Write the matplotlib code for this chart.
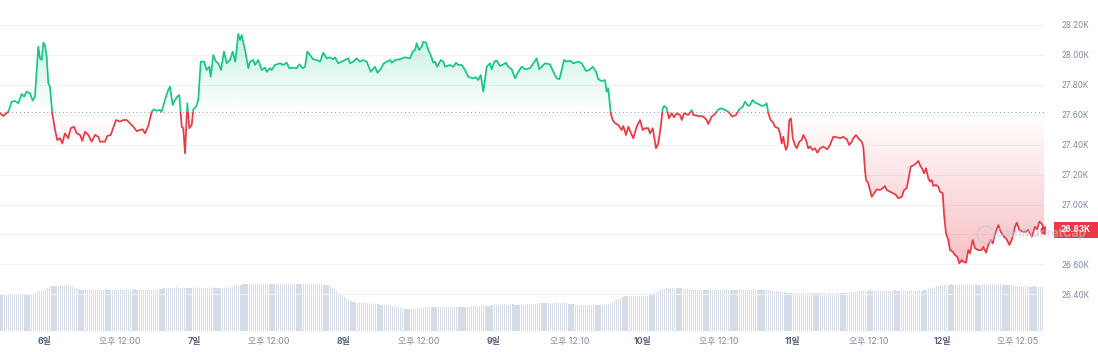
import numpy as np
import matplotlib
matplotlib.use("Agg")
import matplotlib.pyplot as plt
import matplotlib.colors as mcolors
import matplotlib.transforms as mtransforms
from matplotlib.path import Path
from matplotlib.patches import Rectangle

# ---------------- data ----------------
# hours since "6일 00:00"
hours = [
    -7.22, -6.69, -6.15, -5.89, -5.35, -4.82, -4.29, -3.74, -3.37, -2.94, -2.41, -1.97, -1.61, -1.08, -0.80,
    -0.53, -0.27, 0.00, 0.27, 0.53, 0.80, 1.17, 1.61, 1.97, 2.41, 2.78, 3.21, 3.74, 4.13, 4.66, 5.09, 5.62,
    5.99, 6.42, 6.95, 7.50, 8.03, 8.56, 8.83, 9.63, 10.00, 10.55, 11.40, 12.04, 12.57, 13.12, 13.64, 14.18,
    14.72, 15.25, 15.68, 16.05, 16.58, 17.13, 17.50, 17.93, 18.46, 18.73, 19.26, 19.79, 20.07, 20.50, 20.87,
    21.24, 21.56, 21.95, 22.20, 22.48, 22.85, 23.17, 23.55, 23.81, 24.24, 24.61, 25.00, 25.53, 25.96, 26.38,
    26.60, 27.02, 27.45, 27.82, 28.26, 28.74, 29.17, 29.70, 30.13, 30.55, 31.03, 31.31, 31.58, 32.11, 32.64,
    32.91, 33.44, 33.71, 34.24, 34.79, 35.32, 35.59, 36.12, 36.40, 36.92, 37.73, 38.26, 38.80, 39.22, 39.86,
    40.41, 40.83, 41.37, 41.74, 42.11, 42.54, 43.07, 43.62, 44.15, 44.68, 45.22, 45.75, 46.28, 46.56, 47.09,
    47.63, 48.16, 48.69, 48.97, 49.49, 50.04, 50.57, 51.10, 51.65, 52.29, 52.98, 53.35, 53.89, 54.31, 54.86,
    55.39, 55.66, 56.19, 56.99, 57.80, 58.60, 59.03, 59.40, 59.67, 60.04, 60.48, 60.73, 61.17, 61.54, 61.92,
    62.34, 62.61, 62.98, 63.53, 63.94, 64.22, 65.02, 65.55, 65.98, 66.35, 66.90, 67.43, 67.96, 68.66, 69.19,
    69.56, 69.95, 70.37, 70.91, 71.44, 71.71, 72.13, 72.52, 73.05, 73.58, 74.01, 74.38, 74.93, 75.46, 75.99,
    76.53, 77.06, 77.86, 78.39, 78.94, 79.36, 79.74, 80.27, 81.07, 81.60, 82.15, 82.57, 82.95, 83.32, 83.76,
    84.29, 84.82, 85.62, 86.16, 86.85, 87.38, 87.93, 88.46, 88.83, 89.37, 89.90, 90.17, 90.43, 90.82, 91.14,
    91.51, 92.04, 92.58, 92.84, 93.27, 93.64, 94.08, 94.45, 94.99, 95.52, 95.96, 96.32, 96.85, 97.13, 97.56,
    98.09, 98.46, 98.85, 99.17, 99.42, 99.81, 100.18, 100.61, 100.98, 101.42, 101.94, 102.22, 102.59, 103.28,
    103.82, 104.08, 104.88, 105.69, 106.23, 106.49, 107.03, 107.56, 108.09, 108.64, 109.17, 109.70, 110.34,
    110.93, 111.46, 112.01, 112.38, 112.91, 113.18, 113.61, 113.98, 114.51, 115.06, 115.59, 115.86, 116.12,
    116.50, 116.92, 117.19, 117.72, 117.99, 118.27, 118.53, 118.69, 118.96, 119.24, 119.49, 119.76, 120.04,
    120.40, 120.68, 121.10, 121.48, 121.74, 122.17, 122.54, 122.81, 123.25, 123.62, 123.99, 124.42, 124.95,
    125.59, 126.02, 126.55, 127.20, 127.63, 128.16, 128.71, 129.12, 129.51, 129.77, 130.20, 130.57, 131.12,
    131.37, 131.64, 131.81, 132.17, 132.45, 132.72, 133.09, 133.52, 134.05, 134.49, 134.85, 135.13, 135.66,
    136.19, 136.62, 136.99, 137.54, 137.91, 138.34, 138.60, 138.98, 139.51, 139.95, 140.20, 140.47, 140.91,
    141.12, 141.44, 141.81, 142.08, 142.35, 142.61, 143.04, 143.41, 143.68, 144.12, 144.32, 144.64, 145.01,
    145.29, 145.72, 146.09, 146.46, 146.78, 147.17, 147.42, 147.86, 148.23, 148.50, 148.93, 149.30, 149.83,
    150.38, 150.64, 151.07, 151.44, 151.83, 152.15, 152.52, 153.05, 153.43, 153.96, 154.39, 154.81, 155.20,
    155.73, 156.00, 156.42, 156.96, 157.49, 157.86, 158.41, 158.94, 159.31, 159.63, 160.02, 160.39,
]
price = [
    27610, 27592, 27612, 27620, 27687, 27692, 27677, 27739, 27721, 27754, 27744, 27694, 27721, 28055, 27977,
    27966, 28082, 28066, 27988, 27810, 27788, 27610, 27498, 27431, 27443, 27409, 27476, 27443, 27510, 27520,
    27476, 27465, 27425, 27487, 27465, 27420, 27465, 27453, 27420, 27420, 27458, 27465, 27565, 27554, 27565,
    27565, 27543, 27520, 27491, 27498, 27503, 27476, 27525, 27620, 27636, 27627, 27632, 27620, 27699, 27766,
    27788, 27665, 27699, 27721, 27732, 27520, 27510, 27342, 27677, 27510, 27532, 27636, 27654, 27699, 27955,
    27955, 27899, 27921, 27854, 27999, 27955, 27944, 27899, 28022, 27944, 27966, 28022, 27955, 28140, 28100,
    28133, 28033, 27911, 27955, 27966, 27933, 27966, 27899, 27915, 27888, 27911, 27899, 27933, 27944, 27933,
    27948, 27911, 27915, 27911, 27937, 27911, 27921, 28022, 27999, 27971, 27966, 27955, 28015, 27977, 27984,
    27971, 27984, 27944, 27955, 27966, 27977, 27944, 27955, 27977, 27955, 27966, 27955, 27888, 27921, 27881,
    27904, 27940, 27955, 27966, 27948, 27966, 27971, 27984, 27977, 28022, 28033, 28078, 28033, 28055, 28088,
    28082, 28033, 27999, 27948, 27955, 27921, 27966, 27955, 27921, 27933, 27921, 27948, 27933, 27933, 27899,
    27854, 27844, 27850, 27832, 27866, 27754, 27921, 27944, 27904, 27955, 27962, 27926, 27937, 27948, 27921,
    27904, 27844, 27888, 27921, 27904, 27911, 27944, 27977, 27904, 27921, 27944, 27937, 27888, 27844, 27837,
    27899, 27966, 27955, 27962, 27944, 27955, 27944, 27893, 27899, 27921, 27888, 27837, 27826, 27832, 27754,
    27777, 27610, 27565, 27543, 27532, 27498, 27525, 27465, 27520, 27476, 27443, 27520, 27565, 27498, 27510,
    27510, 27476, 27510, 27376, 27409, 27520, 27643, 27659, 27643, 27576, 27610, 27583, 27610, 27599, 27565,
    27610, 27599, 27632, 27599, 27592, 27588, 27565, 27538, 27588, 27605, 27636, 27643, 27632, 27620, 27588,
    27599, 27636, 27654, 27687, 27659, 27665, 27699, 27681, 27672, 27659, 27665, 27677, 27610, 27565, 27547,
    27520, 27510, 27476, 27409, 27453, 27409, 27365, 27398, 27565, 27576, 27443, 27398, 27376, 27420, 27431,
    27465, 27431, 27376, 27387, 27365, 27376, 27346, 27376, 27387, 27369, 27398, 27453, 27449, 27443, 27453,
    27436, 27398, 27420, 27443, 27465, 27443, 27420, 27387, 27231, 27164, 27142, 27097, 27052, 27075, 27102,
    27097, 27109, 27124, 27097, 27086, 27075, 27064, 27042, 27052, 27097, 27109, 27164, 27253, 27264, 27280,
    27291, 27264, 27231, 27209, 27242, 27175, 27153, 27164, 27124, 27131, 27120, 27086, 27075, 26941, 26808,
    26763, 26696, 26685, 26663, 26651, 26607, 26629, 26618, 26611, 26696, 26674, 26763, 26708, 26696, 26696,
    26718, 26678, 26730, 26763, 26741, 26803, 26863, 26818, 26785, 26768, 26730, 26763, 26852, 26879, 26830,
    26818, 26818, 26830, 26785, 26852, 26835, 26886, 26871, 26830,
]
baseline_price = 27620

# volume bars every 20 minutes starting at the first data point (billions USD)
vol_start_hour = -7.22
vol_step_hour = 1.0 / 3.0
volume_b = [
    12.2, 12.2, 12.3, 12.2, 12.2, 12.2, 12.1, 12.2, 12.2, 12.2, 12.2, 12.2, 12.1, 12.2, 12.2, 12.3, 12.4, 12.7,
    13.0, 13.3, 13.4, 13.6, 13.9, 14.2, 14.6,
    14.9, 15.0, 15.1, 15.1, 15.2, 15.2, 15.3, 15.4, 15.3, 15.1,
    14.8, 14.5, 14.2, 14.0,
    13.8, 13.8, 13.7, 13.8, 13.8, 13.9, 13.8, 13.8, 13.7, 13.8, 13.8, 13.8, 13.9, 13.8, 13.8, 13.7, 13.8,
    13.8, 13.8, 13.9, 13.8, 13.8, 13.7, 13.8, 13.8, 13.8, 13.9, 13.8, 13.8, 13.7, 13.8, 13.8, 13.8, 13.9,
    13.8, 13.8, 13.8, 13.9, 14.0, 14.1,
    14.2, 14.3, 14.4, 14.5, 14.5, 14.5, 14.6, 14.5, 14.5, 14.5, 14.4, 14.5, 14.5, 14.5, 14.6, 14.5, 14.5,
    14.5, 14.4, 14.5, 14.5, 14.5, 14.6, 14.5, 14.5, 14.5, 14.4, 14.5, 14.5, 14.5, 14.6, 14.5, 14.6, 14.8,
    15.0, 15.2,
    15.4, 15.5, 15.6, 15.7, 15.7, 15.7, 15.8, 15.7, 15.7, 15.7, 15.6, 15.7, 15.7, 15.7, 15.8, 15.7, 15.7,
    15.7, 15.6, 15.7, 15.7, 15.7, 15.8, 15.7, 15.7, 15.7, 15.6, 15.7, 15.7, 15.7, 15.8, 15.7, 15.7, 15.7,
    15.6, 15.7, 15.7, 15.7, 15.7, 15.6, 15.6, 15.5, 15.4,
    15.2, 14.9, 14.5, 14.0, 13.3,
    12.6, 12.0, 11.6, 11.2, 10.7, 10.2,
    9.9, 9.7, 9.6, 9.5, 9.5, 9.4, 9.4, 9.3, 9.3, 9.2, 9.1, 9.0, 9.0,
    8.9, 8.8, 8.8, 8.7, 8.7, 8.6, 8.5, 8.3, 8.1, 7.9,
    7.8, 7.7, 7.6, 7.5, 7.5, 7.4, 7.4, 7.5, 7.5, 7.5, 7.6, 7.7, 7.8, 7.9,
    8.0, 8.0, 8.0, 8.1, 8.0, 8.0, 7.9, 8.0, 8.0, 8.0, 8.1, 8.0, 8.0, 7.9, 8.0, 8.0, 8.0, 8.1, 8.0, 8.0,
    8.1, 8.2, 8.3, 8.4,
    8.5, 8.5, 8.5, 8.6, 8.5, 8.5, 8.5, 8.6, 8.7, 8.7,
    8.8, 8.8, 8.8, 8.9, 8.8, 8.8, 8.8, 8.9, 8.8, 8.8, 8.8, 8.9, 8.8, 8.8, 8.9, 9.0, 9.0, 9.1, 9.1,
    9.2, 9.2, 9.2, 9.3, 9.2, 9.2, 9.2, 9.3, 9.2, 9.2, 9.2, 9.3, 9.2, 9.2, 9.2, 9.1, 9.0, 8.9, 8.8,
    8.7, 8.7, 8.7, 8.6, 8.7, 8.7, 8.7, 8.6, 8.7, 8.7, 8.7, 8.6, 8.7, 8.7, 8.8, 9.0,
    9.4, 9.8, 10.2, 10.4, 10.5, 10.9,
    11.3, 11.6, 11.7, 11.7, 11.7, 11.8, 11.7, 11.7, 11.7, 11.8, 11.7, 11.7, 11.8, 12.0, 12.3,
    12.6, 13.0, 13.3, 13.6, 13.9,
    14.1, 14.2, 14.2, 14.3, 14.2, 14.2, 14.2, 14.3, 14.2, 14.1, 14.0, 13.9,
    13.8, 13.8, 13.8, 13.9, 13.8, 13.8, 13.7, 13.8, 13.8, 13.8, 13.9, 13.8, 13.8, 13.7, 13.8, 13.8,
    13.8, 13.9, 13.8, 13.8, 13.7, 13.8, 13.8, 13.8, 13.9, 13.8, 13.8, 13.7, 13.8, 13.8, 13.8, 13.9,
    13.8, 13.8, 13.7, 13.8, 13.8, 13.8, 13.7, 13.6, 13.5, 13.4, 13.3, 13.2, 13.1, 13.0, 12.9, 12.8,
    12.7, 12.7, 12.7, 12.6, 12.7, 12.7, 12.7, 12.6, 12.7, 12.7, 12.7, 12.8, 12.7, 12.7, 12.7, 12.6, 12.7,
    12.7, 12.7, 12.6, 12.7, 12.7, 12.7, 12.8, 12.7, 12.7, 12.7, 12.6, 12.7, 12.8, 12.9, 13.0, 13.1, 13.2,
    13.3, 13.4,
    13.5, 13.5, 13.5, 13.6, 13.5, 13.5, 13.5, 13.6, 13.5, 13.5, 13.5, 13.6, 13.5, 13.5, 13.5, 13.6, 13.5,
    13.5, 13.5, 13.6, 13.5, 13.5, 13.5, 13.6, 13.5, 13.5, 13.5, 13.6, 13.5, 13.6, 13.7, 13.9, 14.1, 14.4,
    14.7, 14.9, 15.1, 15.3, 15.4,
    15.5, 15.5, 15.5, 15.6, 15.5, 15.5, 15.5, 15.6, 15.5, 15.5, 15.5, 15.6, 15.5, 15.5, 15.5, 15.6, 15.5,
    15.5, 15.5, 15.6, 15.5, 15.5, 15.5, 15.6, 15.5, 15.5, 15.5, 15.6, 15.5, 15.5, 15.4, 15.3, 15.2, 15.1,
    15.0, 14.9,
    14.8, 14.8, 14.8, 14.9, 14.8, 14.8, 14.8, 14.9, 14.8, 14.8, 14.7, 14.7,
]

tick_hours = [0, 12, 24, 36, 48, 60, 72, 84.17, 96, 108.17, 120, 132.17, 144, 156.08]
tick_labels = ["6일", "오후 12:00", "7일", "오후 12:00", "8일", "오후 12:00", "9일",
               "오후 12:10", "10일", "오후 12:10", "11일", "오후 12:10", "12일", "오후 12:05"]
tick_is_day = [True, False, True, False, True, False, True, False, True, False, True, False, True, False]
y_ticks = [26400, 26600, 26800, 27000, 27200, 27400, 27600, 27800, 28000, 28200]
y_labels = ["26.40K", "26.60K", "", "27.00K", "27.20K", "27.40K", "27.60K", "27.80K", "28.00K", "28.20K"]

# ---------------- style ----------------
GREEN = "#16c784"
RED = "#ea3943"
GRID = "#eff2f5"
TXT = "#808a9d"
DAYTXT = "#58667e"
plt.rcParams["font.family"] = ["Inter", "Noto Sans CJK KR", "DejaVu Sans"]

W, H = 1098, 352
fig = plt.figure(figsize=(W / 100, H / 100), dpi=100)
rect = [0, (H - 331) / H, 1045 / W, 331 / H]
ax2 = fig.add_axes(rect)
ax = fig.add_axes(rect)
ax.set_zorder(ax2.get_zorder() + 1)
ax.patch.set_visible(False)

x = np.array(hours)
y = np.array(price)
XMIN, XMAX = -7.224, 160.54
YMIN, YMAX = 26155, 28367

# volume
vt = vol_start_hour + vol_step_hour * np.arange(len(volume_b))
ax2.bar(vt, volume_b, width=0.2, color="#d5dce7", linewidth=0, align="center")
ax2.set_xlim(XMIN, XMAX)
ax2.set_ylim(0, 331 / 3)
ax2.axis("off")


def gradient_fill(where, color, amax, extreme):
    poly = ax.fill_between(x, y, baseline_price, where=where, interpolate=True,
                           facecolor="none", edgecolor="none")
    path = Path.make_compound_path(*poly.get_paths())
    rgb = mcolors.to_rgb(color)
    n = 256
    lo, hi = min(baseline_price, extreme), max(baseline_price, extreme)
    z = np.linspace(0, 1, n)
    alpha = z * amax if extreme > baseline_price else (1 - z) * amax
    img = np.zeros((n, 1, 4))
    img[:, 0, :3] = rgb
    img[:, 0, 3] = alpha
    im = ax.imshow(img, extent=[XMIN, XMAX, lo, hi], origin="lower", aspect="auto",
                   zorder=1, interpolation="bilinear")
    im.set_clip_path(path, transform=ax.transData)


gradient_fill(y >= baseline_price, GREEN, 0.25, 28150)
gradient_fill(y <= baseline_price, RED, 0.32, 26600)

# price line, coloured above / below the baseline
lg, = ax.plot(x, y, color=GREEN, lw=1.25, zorder=3, solid_joinstyle="round")
lg.set_clip_path(Rectangle((XMIN, baseline_price), XMAX - XMIN, YMAX - baseline_price,
                           transform=ax.transData))
lr, = ax.plot(x, y, color=RED, lw=1.25, zorder=3, solid_joinstyle="round")
lr.set_clip_path(Rectangle((XMIN, YMIN), XMAX - XMIN, baseline_price - YMIN,
                           transform=ax.transData))
ax.plot([x[-1]], [y[-1]], "o", ms=5, color=RED, zorder=4)

ax.axhline(baseline_price, color="#9aa3b4", lw=0.8, ls=(0, (1, 2.5)), zorder=2)

ax.set_xlim(XMIN, XMAX)
ax.set_ylim(YMIN, YMAX)
ax.set_yticks(y_ticks)
ax.set_yticklabels(y_labels)
ax.yaxis.tick_right()
ax.grid(axis="y", color=GRID, lw=0.8, zorder=0)
ax.set_axisbelow(True)
ax.tick_params(axis="y", length=0, pad=11.5, labelsize=5.8, labelcolor=TXT)
ax.set_xticks(tick_hours)
ax.set_xticklabels(tick_labels)
ax.tick_params(axis="x", length=0, pad=4, labelsize=6.4)
for lab, isday in zip(ax.get_xticklabels(), tick_is_day):
    if isday:
        lab.set_color(DAYTXT)
        lab.set_fontweight("bold")
    else:
        lab.set_color(TXT)
for s in ax.spines.values():
    s.set_visible(False)

# current price tag
blend = mtransforms.blended_transform_factory(ax.transAxes, ax.transData)
ax.add_patch(Rectangle((1054 / 1045, y[-1] - 55), 0.06, 110, transform=blend,
                       facecolor=RED, edgecolor="none", clip_on=False, zorder=5))
ax.text(1061 / 1045, y[-1], f"{y[-1] / 1000:.2f}K", transform=blend, ha="left", va="center",
        fontsize=6, color="white", fontweight="bold", clip_on=False, zorder=6)

# faint watermark, drawn across the price tag as in the reference
ax.plot([985 / 1045], [(331 - 234) / 331], "o", ms=12, mfc="none", mec="#c3cde0", mew=1.5,
        alpha=0.6, transform=ax.transAxes, clip_on=False, zorder=7)
ax.text(995 / 1045, (331 - 234) / 331, "CoinMarketCap", transform=ax.transAxes, ha="left",
        va="center", fontsize=8.6, color="#c3cde0", alpha=0.6, fontweight="bold",
        clip_on=False, zorder=7)

fig.savefig("out.png", dpi=100)
